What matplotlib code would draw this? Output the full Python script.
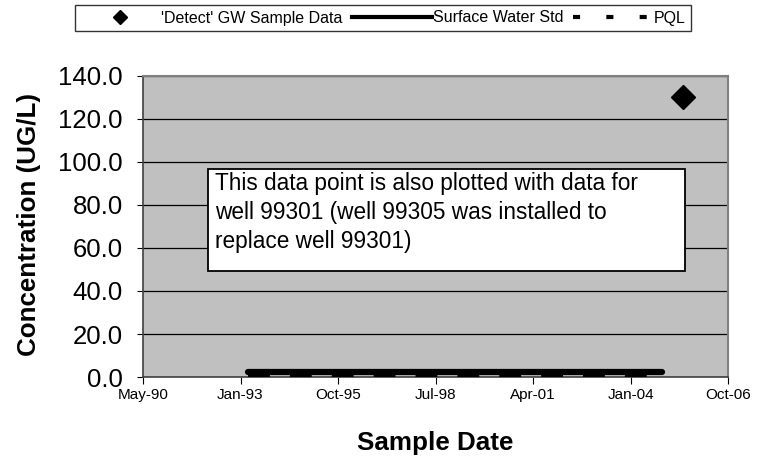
import datetime as dt
import matplotlib
matplotlib.use("Agg")
import matplotlib.pyplot as plt
import matplotlib.dates as mdates
from matplotlib.lines import Line2D
from matplotlib.patches import Rectangle

plt.rcParams['font.family'] = ['Liberation Sans', 'DejaVu Sans']

# data
detect_dates = [dt.date(2005, 7, 1)]
detect_vals = [130.0]
std_dates = [dt.date(1993, 4, 12), dt.date(2004, 11, 28)]
std_vals = [2.5, 2.5]
pql_dates = [dt.date(1993, 4, 12), dt.date(2004, 11, 28)]
pql_vals = [0.8, 0.8]

# excel style date axis, major unit 1000 days
x_start = dt.date(1990, 5, 1)
tick_dates = [x_start + dt.timedelta(days=1000 * i) for i in range(7)]
y_ticks = [0, 20, 40, 60, 80, 100, 120, 140]

note = ('This data point is also plotted with data for\n'
        'well 99301 (well 99305 was installed to\n'
        'replace well 99301)')

fig = plt.figure(figsize=(7.68, 4.61), dpi=100)
ax = fig.add_axes([0.1862, 0.1822, 0.7618, 0.6530])
ax.set_facecolor('#C0C0C0')

ax.plot(std_dates, std_vals, color='black', lw=4.5, solid_capstyle='round', zorder=3)
ax.plot(pql_dates, pql_vals, color='black', lw=4.5, dashes=(3.5, 3.2), zorder=3)
ax.plot(detect_dates, detect_vals, 'D', color='black', ms=12.5, zorder=4, clip_on=False)

ax.set_xlim(tick_dates[0], tick_dates[-1])
ax.set_ylim(0, 140)
ax.set_xticks(tick_dates)
ax.xaxis.set_major_formatter(mdates.DateFormatter('%b-%y'))
ax.set_yticks(y_ticks)
ax.set_yticklabels([f'{v:.1f}' for v in y_ticks], fontsize=18.5)
ax.tick_params(axis='x', labelsize=11, length=5, direction='out', pad=3)
ax.tick_params(axis='y', length=4.5, direction='out', pad=10)
ax.grid(axis='y', color='black', lw=0.9)
ax.set_axisbelow(True)
for side in ['top', 'right']:
    ax.spines[side].set_color('#808080')
    ax.spines[side].set_linewidth(1.5)
for side in ['left', 'bottom']:
    ax.spines[side].set_color('#404040')
    ax.spines[side].set_linewidth(1.2)

fig.text(435.5 / 768, 1 - 443 / 461, 'Sample Date', fontsize=18.7, fontweight='bold',
         ha='center', va='center')
fig.text(29 / 768, 1 - 225 / 461, 'Concentration (UG/L)', fontsize=18.7, fontweight='bold',
         rotation=90, ha='center', va='center')

# note box
ax.add_patch(Rectangle((0.111, 0.352), 0.8155, 0.339, transform=ax.transAxes,
                       facecolor='white', edgecolor='black', lw=1.3, zorder=5))
ax.text(0.123, 0.682, note, transform=ax.transAxes, fontsize=16.3, va='top', ha='left',
        linespacing=1.35, zorder=6)

handles = [
    Line2D([], [], ls='none', marker='D', color='black', ms=7.5),
    Line2D([], [], color='black', lw=3),
    Line2D([], [], color='black', lw=3, dashes=(1.7, 6.3)),
]
labels = ["'Detect' GW Sample Data", 'Surface Water Std', 'PQL']
leg = fig.legend(handles, labels, loc='center', bbox_to_anchor=(383 / 768, 1 - 18 / 461), ncol=3,
                 fontsize=11.5, frameon=True, fancybox=False, edgecolor='black',
                 handlelength=5, columnspacing=0.6, handletextpad=0.05, borderpad=0.35)
leg.get_frame().set_linewidth(1.0)

fig.savefig('out.png', dpi=100)
